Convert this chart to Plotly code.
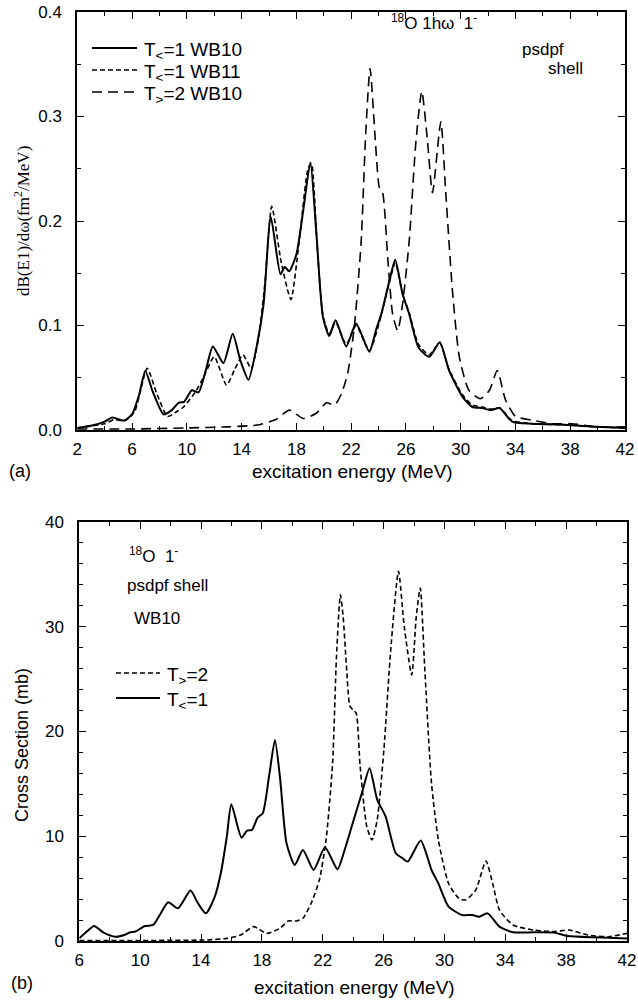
import plotly.graph_objects as go

W, H = 638, 1002

# ---------------- data: panel (a) ----------------
e_wb10 = [2.0, 3.0, 4.0, 4.55, 5.4, 6.0, 6.5, 6.97, 7.5, 8.3, 8.9, 9.4, 9.8, 10.36, 10.85, 11.4, 11.9,
          12.67, 13.35, 13.9, 14.5, 15.1, 15.6, 16.13, 16.84, 17.15, 17.47, 18.0, 18.5, 19.02, 19.45,
          19.94, 20.4, 20.86, 21.64, 22.36, 23.33, 23.8, 24.2, 24.8, 25.22, 25.76, 26.24, 26.92, 27.7,
          28.47, 29.15, 30.12, 30.85, 31.58, 32.18, 32.84, 33.76, 35.2, 37.6, 40.0, 42.0]
b_wb10 = [0.002, 0.004, 0.008, 0.012, 0.009, 0.015, 0.033, 0.0565, 0.037, 0.015, 0.019, 0.026, 0.027,
          0.038, 0.036, 0.058, 0.080, 0.064, 0.092, 0.067, 0.048, 0.080, 0.120, 0.204, 0.149, 0.156,
          0.152, 0.168, 0.210, 0.256, 0.190, 0.108, 0.090, 0.105, 0.080, 0.102, 0.075, 0.095, 0.111,
          0.143, 0.163, 0.130, 0.111, 0.079, 0.070, 0.084, 0.057, 0.032, 0.022, 0.021, 0.019, 0.021,
          0.008, 0.006, 0.005, 0.003, 0.002]

e_wb11 = [2.0, 4.0, 4.7, 5.5, 6.2, 7.1, 7.8, 8.6, 9.3, 9.76, 10.6, 11.2, 12.0, 12.9, 13.5, 14.1, 14.7,
          15.2, 15.7, 16.2, 16.9, 17.6, 18.2, 18.85, 19.1, 19.5, 19.94, 20.4, 20.86, 21.64, 22.36,
          23.33, 24.2, 24.8, 25.22, 25.76, 26.24, 26.92, 27.7, 28.47, 29.15, 30.12, 30.85, 31.58,
          32.18, 32.84, 33.76, 35.2, 37.6, 40.0, 42.0]
b_wb11 = [0.002, 0.006, 0.010, 0.009, 0.018, 0.059, 0.035, 0.013, 0.018, 0.022, 0.036, 0.050, 0.070,
          0.043, 0.058, 0.072, 0.059, 0.085, 0.140, 0.214, 0.160, 0.125, 0.180, 0.250, 0.255, 0.180,
          0.110, 0.092, 0.103, 0.082, 0.100, 0.076, 0.110, 0.142, 0.160, 0.130, 0.112, 0.082, 0.072,
          0.083, 0.058, 0.034, 0.024, 0.022, 0.020, 0.021, 0.009, 0.006, 0.005, 0.003, 0.002]

e_t2 = [2.0, 6.0, 10.0, 13.0, 14.5, 15.3, 16.5, 17.5, 18.5, 19.45, 20.2, 20.8, 21.3, 21.76, 22.24,
        22.73, 23.05, 23.38, 23.77, 24.06, 24.3, 24.67, 25.03, 25.4, 25.76, 26.24, 26.73, 27.16,
        27.58, 27.94, 28.55, 28.9, 29.4, 29.9, 30.6, 31.45, 32.1, 32.67, 33.27, 34.0, 35.2, 36.67,
        38.1, 40.06, 42.0]
b_t2 = [0.001, 0.001, 0.002, 0.003, 0.004, 0.005, 0.010, 0.019, 0.011, 0.016, 0.026, 0.024, 0.035,
        0.055, 0.100, 0.180, 0.280, 0.346, 0.276, 0.232, 0.227, 0.165, 0.111, 0.095, 0.121, 0.181,
        0.276, 0.324, 0.276, 0.227, 0.295, 0.229, 0.133, 0.070, 0.038, 0.030, 0.038, 0.057, 0.029,
        0.013, 0.0095, 0.006, 0.006, 0.003, 0.003]

# ---------------- data: panel (b) ----------------
e_cs1 = [6.0, 6.5, 6.97, 7.6, 8.38, 9.0, 9.35, 9.68, 10.32, 10.86, 11.3, 11.84, 12.49, 13.31, 13.8,
         14.32, 14.9, 15.3, 15.7, 15.99, 16.66, 17.03, 17.35, 17.72, 18.06, 18.5, 18.86, 19.2, 19.62,
         20.16, 20.7, 21.4, 22.15, 22.97, 23.4, 23.9, 24.57, 25.08, 25.58, 26.13, 26.8, 27.25, 27.59,
         28.44, 29.15, 29.6, 30.27, 31.16, 31.83, 32.28, 32.84, 33.62, 34.5, 35.85, 37.2, 38.1,
         39.9, 42.0]
cs1 = [0.25, 0.9, 1.43, 0.8, 0.41, 0.6, 0.83, 0.9, 1.43, 1.53, 2.5, 3.69, 3.12, 4.81, 3.6, 2.64, 4.2,
       6.46, 10.0, 13.06, 9.87, 10.54, 10.6, 11.78, 12.2, 16.0, 19.2, 15.5, 9.33, 7.26, 8.69, 6.78,
       8.95, 6.85, 8.5, 10.9, 14.1, 16.5, 13.5, 11.9, 8.38, 7.9, 7.58, 9.59, 6.78, 5.5, 3.28, 2.48,
       2.48, 2.32, 2.64, 1.37, 0.83, 0.83, 0.8, 0.48, 0.35, 0.25]

e_cs2 = [6.0, 10.0, 14.4, 15.7, 16.6, 17.46, 18.32, 19.19, 19.73, 20.27, 20.7, 21.24, 21.78, 22.22,
         22.65, 22.9, 23.16, 23.34, 23.56, 23.79, 24.0, 24.2, 24.46, 24.9, 25.24, 25.58, 26.02, 26.47,
         26.98, 27.36, 27.85, 28.15, 28.41, 28.7, 29.15, 29.6, 30.27, 30.94, 31.39, 32.06, 32.73,
         33.17, 33.62, 34.5, 35.85, 37.2, 38.2, 39.43, 40.77, 42.0]
cs2 = [0.05, 0.05, 0.1, 0.25, 0.57, 1.37, 0.73, 1.21, 1.91, 1.91, 2.17, 3.6, 5.83, 9.65, 17.0, 27.0,
       33.06, 31.0, 26.2, 22.4, 22.07, 21.75, 16.65, 10.9, 9.65, 11.56, 18.25, 27.8, 35.3, 30.0, 25.4,
       31.0, 33.7, 26.2, 15.06, 9.65, 5.5, 4.08, 3.92, 4.87, 7.64, 5.5, 2.96, 1.53, 1.05, 0.9, 1.05,
       0.57, 0.41, 0.73]

xticks_a = [2, 6, 10, 14, 18, 22, 26, 30, 34, 38, 42]
xticks_b = [6, 10, 14, 18, 22, 26, 30, 34, 38, 42]
yticks_a = [0.0, 0.1, 0.2, 0.3, 0.4]
yticks_b = [0, 10, 20, 30, 40]

names_a = ["T<sub>&lt;</sub>=1 WB10", "T<sub>&lt;</sub>=1 WB11", "T<sub>&gt;</sub>=2 WB10"]
names_b = ["T<sub>&gt;</sub>=2", "T<sub>&lt;</sub>=1"]

SANS = "Liberation Sans, Arial, Helvetica, sans-serif"
SERIF = "Liberation Serif, Times New Roman, serif"

DASH_SOLID = "solid"
DASH_SHORT = "5px,3px"
DASH_LONG = "10px,6px"


def px(x):
    return x / W


def py(y):
    return 1 - y / H


fig = go.Figure()
line_common = dict(shape="spline", smoothing=0.6, color="black")

fig.add_trace(go.Scatter(x=e_wb10, y=b_wb10, mode="lines", name=names_a[0],
                         line=dict(width=2, dash=DASH_SOLID, **line_common), xaxis="x", yaxis="y"))
fig.add_trace(go.Scatter(x=e_wb11, y=b_wb11, mode="lines", name=names_a[1],
                         line=dict(width=1.6, dash=DASH_SHORT, **line_common), xaxis="x", yaxis="y"))
fig.add_trace(go.Scatter(x=e_t2, y=b_t2, mode="lines", name=names_a[2],
                         line=dict(width=1.6, dash=DASH_LONG, **line_common), xaxis="x", yaxis="y"))
fig.add_trace(go.Scatter(x=e_cs2, y=cs2, mode="lines", name=names_b[0],
                         line=dict(width=1.6, dash=DASH_SHORT, **line_common), xaxis="x2", yaxis="y2"))
fig.add_trace(go.Scatter(x=e_cs1, y=cs1, mode="lines", name=names_b[1],
                         line=dict(width=2, dash=DASH_SOLID, **line_common), xaxis="x2", yaxis="y2"))

axis_common = dict(showline=True, linecolor="black", linewidth=2, mirror="ticks", ticks="inside",
                   ticklen=7, tickwidth=1.2, tickcolor="black", showgrid=False, zeroline=False,
                   tickfont=dict(size=17, family=SANS, color="black"))

fig.update_layout(
    width=W, height=H, margin=dict(l=0, r=0, t=0, b=0, autoexpand=False),
    paper_bgcolor="white", plot_bgcolor="white", showlegend=False,
    xaxis=dict(domain=[px(77.3), px(625)], range=[2, 42], tickvals=xticks_a, anchor="y",
               ticklabelstandoff=3,
               minor=dict(ticks="inside", ticklen=4, dtick=2, tick0=0, tickcolor="black", tickwidth=1),
               **axis_common),
    yaxis=dict(domain=[py(430), py(12)], range=[0, 0.4], tickvals=yticks_a, tickformat=".1f",
               anchor="x", ticklabelstandoff=10,
               minor=dict(ticks="inside", ticklen=4, dtick=0.05, tick0=0, tickcolor="black", tickwidth=1),
               **axis_common),
    xaxis2=dict(domain=[px(79.3), px(627)], range=[6, 42], tickvals=xticks_b, anchor="y2",
                ticklabelstandoff=3,
                minor=dict(ticks="inside", ticklen=4, dtick=2, tick0=0, tickcolor="black", tickwidth=1),
                **axis_common),
    yaxis2=dict(domain=[py(941), py(522)], range=[0, 40], tickvals=yticks_b, anchor="x2",
                ticklabelstandoff=10,
                minor=dict(ticks="inside", ticklen=4, dtick=2, tick0=0, tickcolor="black", tickwidth=1),
                **axis_common),
)

ann = []
shapes = []


def text(x, y, s, size=18, family=SANS, angle=0, xanchor="center"):
    ann.append(dict(x=px(x), y=py(y), xref="paper", yref="paper", text=s, showarrow=False,
                    xanchor=xanchor, yanchor="middle", textangle=angle,
                    font=dict(size=size, family=family, color="black")))


def legend_row(x0, x1, y, dash, width, label):
    shapes.append(dict(type="line", xref="paper", yref="paper", x0=px(x0), x1=px(x1),
                       y0=py(y), y1=py(y), line=dict(color="black", width=width, dash=dash)))
    text(x1 + 5, y + 3, label, size=19, xanchor="left")


# panel (a) legend
legend_row(92, 137, 48, DASH_SOLID, 2, names_a[0])
legend_row(92, 137, 70, DASH_SHORT, 1.6, names_a[1])
legend_row(92, 137, 92, DASH_LONG, 1.6, names_a[2])
# panel (b) legend
legend_row(116, 160, 673, DASH_SHORT, 1.6, names_b[0])
legend_row(116, 160, 698, DASH_SOLID, 2, names_b[1])

# panel (a) texts
text(434, 22, "<sup>18</sup>O 1hω  1<sup>-</sup>", size=17)
text(543, 50, "psdpf", size=17)
text(565, 68, "shell", size=17)
text(352, 471, "excitation energy (MeV)", size=19)
text(20, 471, "(a)", size=18)
text(22, 221, "dB(E1)/dω(fm<sup>2</sup>/MeV)", size=17, family=SERIF, angle=-90)

# panel (b) texts
text(127, 555, "<sup>18</sup>O  1<sup>-</sup>", size=17, xanchor="left")
text(125, 585, "psdpf shell", size=17, xanchor="left")
text(132, 618, "WB10", size=17, xanchor="left")
text(354, 987, "excitation energy (MeV)", size=19)
text(22, 983, "(b)", size=18)
text(22, 745, "Cross Section (mb)", size=18, angle=-90)

fig.update_layout(annotations=ann, shapes=shapes)

fig.write_html("out.html")
